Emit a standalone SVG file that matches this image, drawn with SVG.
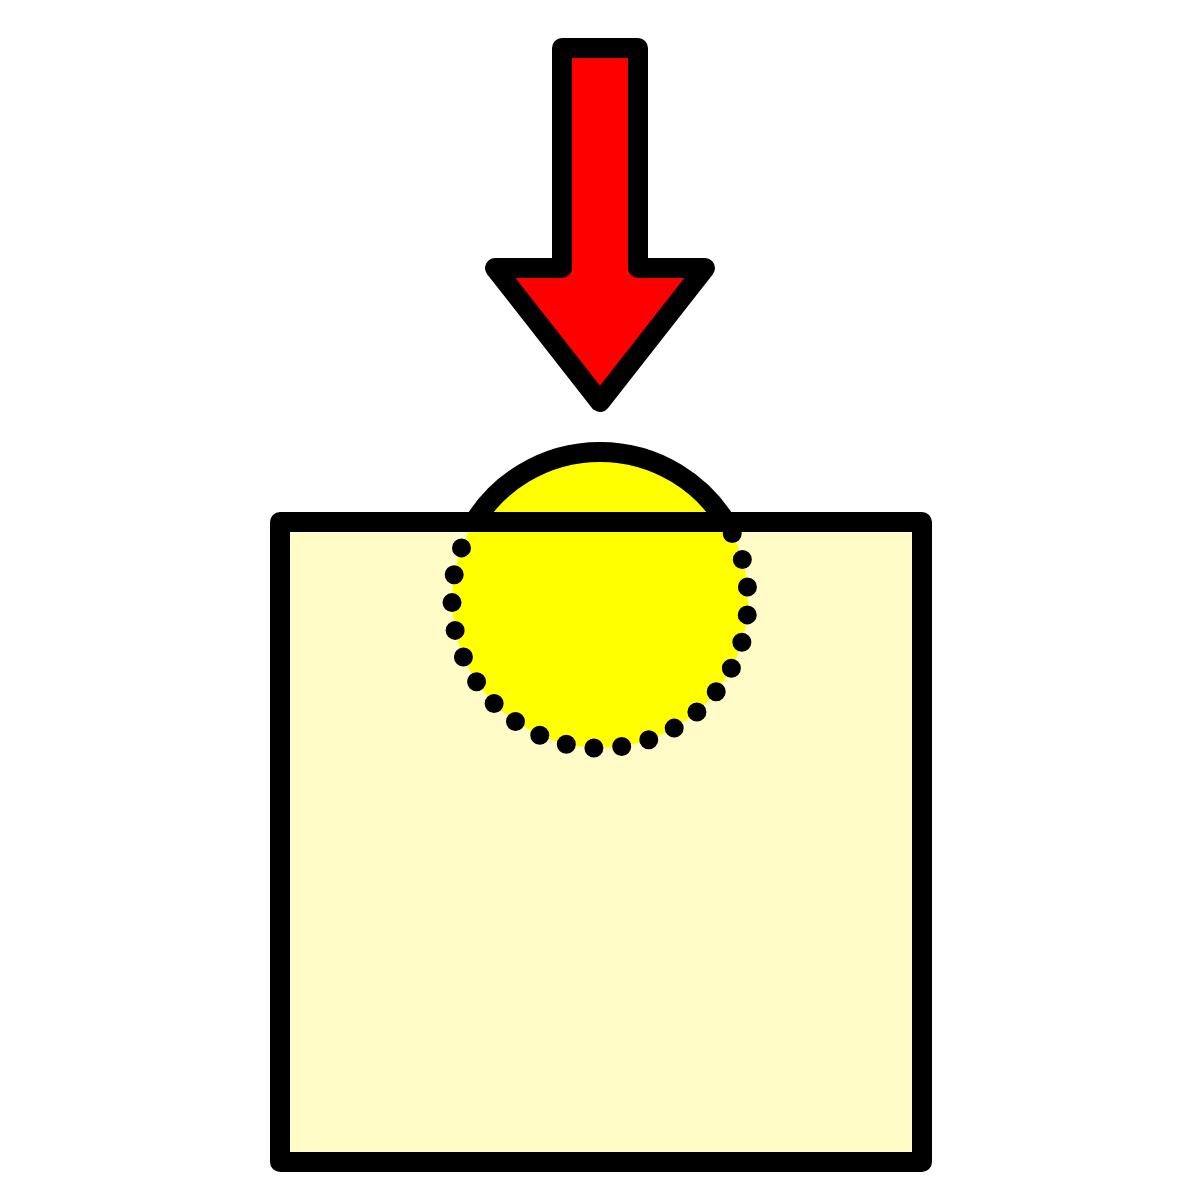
<svg xmlns="http://www.w3.org/2000/svg" width="1200" height="1200" viewBox="0 0 1200 1200">
<style>
.ol{stroke:#000;stroke-width:20;stroke-linejoin:round;stroke-linecap:round}
</style>
<rect width="1200" height="1200" fill="#fff"/>
<g id="box">
<rect x="280" y="522" width="642" height="640" fill="#FFFCC8"/>
</g>
<g id="ball">
<circle cx="600" cy="600" r="148" fill="#FFFF00"/>
</g>
<g id="box-outline">
<rect class="ol" x="280" y="522" width="642" height="640" fill="none"/>
</g>
<g id="ball-outline">
<path class="ol" fill="none" d="M474.2 522 A148 148 0 0 1 725.8 522"/>
<path fill="none" stroke="#000" stroke-width="19" stroke-linecap="round" pathLength="2100" stroke-dasharray="0 99.99" d="M461.5 547.9 A148 148 0 1 0 732.2 533.5"/>
</g>
<g id="arrow">
<path class="ol" fill="#FF0000" d="M562 48 L638 48 L638 268 L705 268 L600 402 L495 268 L562 268 Z"/>
</g>
</svg>
